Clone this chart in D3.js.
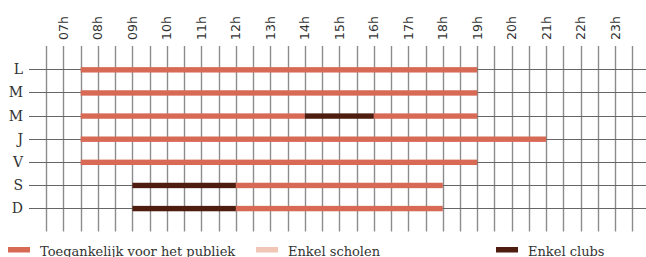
<!DOCTYPE html>
<html>
<head>
<meta charset="utf-8">
<script src="https://cdn.jsdelivr.net/npm/d3@7"></script>
<style>
  body { margin: 0; background: #fff; }
  .hour { font-family: "DejaVu Sans", sans-serif; font-size: 12.5px; fill: #333; }
  .day { font-family: "DejaVu Serif", serif; font-size: 14px; fill: #333; }
  .legend text { font-family: "DejaVu Serif", serif; font-size: 13px; fill: #333; }
</style>
</head>
<body>
<div id="chart"></div>
<script>
// Data
const days = ['L', 'M', 'M', 'J', 'V', 'S', 'D'];
const hours = [7, 8, 9, 10, 11, 12, 13, 14, 15, 16, 17, 18, 19, 20, 21, 22, 23];
// open periods per day, [start, end] in hours
const publiek = [
    [[7.5, 19]],
    [[7.5, 19]],
    [[7.5, 14], [16, 19]],
    [[7.5, 21]],
    [[7.5, 19]],
    [[12, 18]],
    [[12, 18]]
];
const scholen = [[], [], [], [], [], [], []];
const clubs = [
    [],
    [],
    [[14, 16]],
    [],
    [],
    [[9, 12]],
    [[9, 12]]
];
const legendItems = [
    { label: 'Toegankelijk voor het publiek', color: '#d86a55' },
    { label: 'Enkel scholen', color: '#f2c6b6' },
    { label: 'Enkel clubs', color: '#4f1d10' }
];

const width = 646, height = 257;

const svg = d3.select('#chart')
    .append('svg')
    .attr('width', width)
    .attr('height', height);

var x = d3.scaleLinear()
    .domain([6.5, 23.5])
    .range([46.2, 632.4]);

var y = d3.scalePoint()
    .domain(d3.range(days.length))
    .range([46.2, 231.2])
    .padding(1);

// vertical grid lines every half hour
const halfHours = d3.range(13, 48).map(d => d / 2);
svg.append('g')
    .selectAll('line')
    .data(halfHours)
    .enter()
    .append('line')
    .attr('x1', d => Math.round(x(d)) + 0.5)
    .attr('x2', d => Math.round(x(d)) + 0.5)
    .attr('y1', 46)
    .attr('y2', 231.5)
    .attr('stroke', '#8c8c8c')
    .attr('stroke-width', 1.4);

// horizontal row lines
svg.append('g')
    .selectAll('line')
    .data(d3.range(days.length))
    .enter()
    .append('line')
    .attr('x1', 29)
    .attr('x2', width)
    .attr('y1', d => Math.round(y(d)) + 0.5)
    .attr('y2', d => Math.round(y(d)) + 0.5)
    .attr('stroke', '#666')
    .attr('stroke-width', 1);

// hour labels (rotated)
svg.append('g')
    .selectAll('text')
    .data(hours)
    .enter()
    .append('text')
    .attr('class', 'hour')
    .attr('transform', d => 'translate(' + (x(d) + 4.5) + ',40) rotate(-90)')
    .text(d => d3.format('02d')(d) + 'h');

// day labels
svg.append('g')
    .selectAll('text')
    .data(days)
    .enter()
    .append('text')
    .attr('class', 'day')
    .attr('text-anchor', 'end')
    .attr('x', 23)
    .attr('y', (d, i) => y(i) + 5)
    .text(d => d);

// bars
function drawBars(series, color) {
    const segs = [];
    series.forEach((list, i) => list.forEach(s => segs.push({ row: i, s: s })));
    svg.append('g')
        .selectAll('rect')
        .data(segs)
        .enter()
        .append('rect')
        .attr('x', d => x(d.s[0]))
        .attr('y', d => y(d.row) - 2.2)
        .attr('width', d => x(d.s[1]) - x(d.s[0]))
        .attr('height', 5.4)
        .attr('fill', color);
}
drawBars(scholen, legendItems[1].color);
drawBars(publiek, legendItems[0].color);
drawBars(clubs, legendItems[2].color);

// legend
const legendX = [8, 256, 496];
const legend = svg.append('g').attr('class', 'legend');
const li = legend.selectAll('g')
    .data(legendItems)
    .enter()
    .append('g')
    .attr('transform', (d, i) => 'translate(' + legendX[i] + ',0)');
li.append('rect')
    .attr('x', 0)
    .attr('y', 247)
    .attr('width', 22)
    .attr('height', 5.5)
    .attr('fill', d => d.color);
li.append('text')
    .attr('x', 32)
    .attr('y', 256)
    .text(d => d.label);
</script>
</body>
</html>
